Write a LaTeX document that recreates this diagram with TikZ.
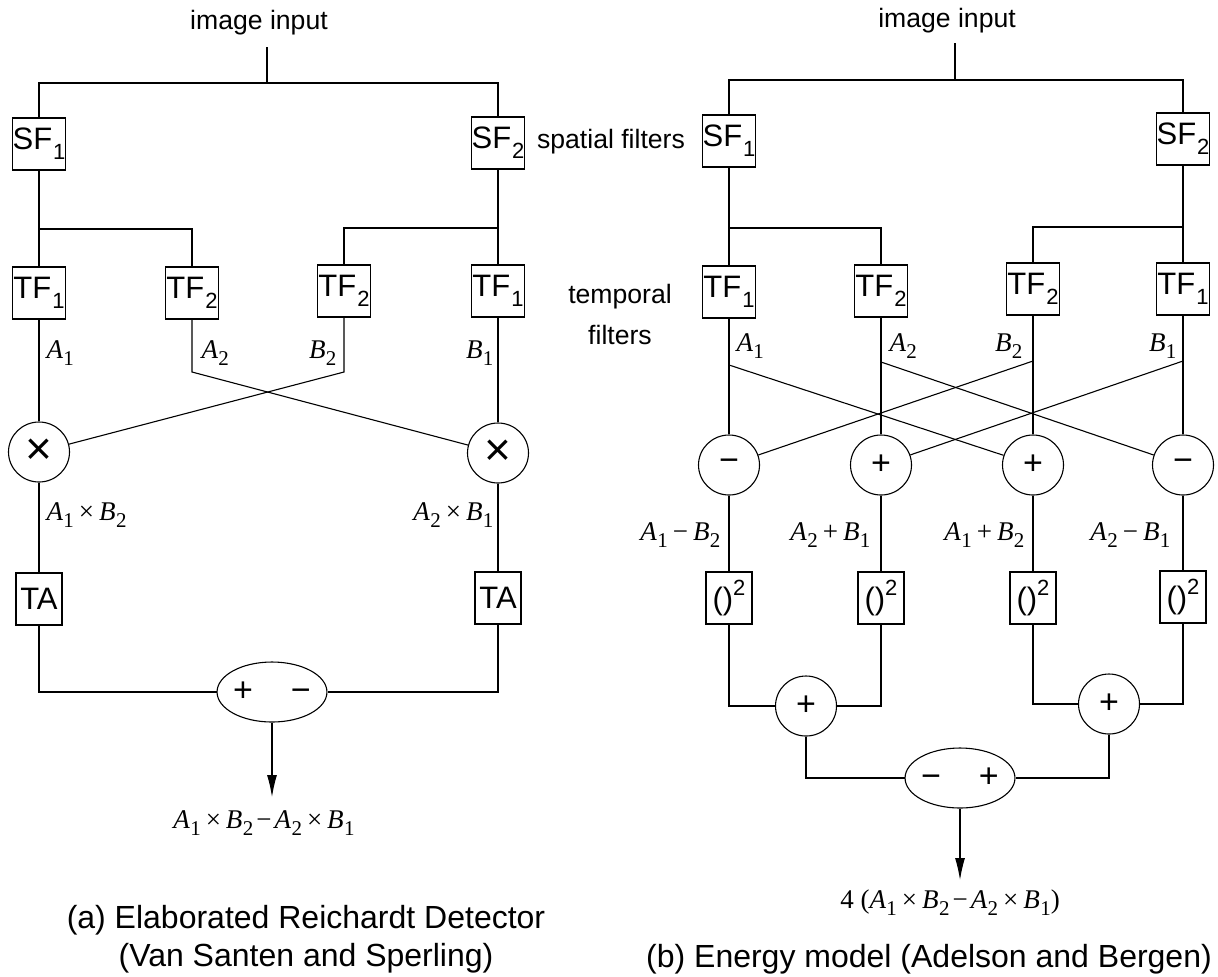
\documentclass[tikz,border=0pt]{standalone}
\usepackage{fontspec}
\setmainfont{Liberation Sans}
\newfontfamily\tms{Liberation Serif}
\usetikzlibrary{arrows.meta,shapes.geometric}
\newcommand\mv[2]{{\tms\itshape #1}\kern0.2pt\raisebox{-0.55ex}{\tms\fontsize{10.5}{10.5}\selectfont #2}}
\newcommand\opx[1]{\kern2.5pt{\tms #1}\kern2.5pt}
\newcommand\bsub[1]{\kern0.5pt\raisebox{-0.6ex}{\fontsize{11}{11}\selectfont #1}}
\newcommand\sqr{()\raisebox{0.85ex}{\fontsize{11}{11}\selectfont 2}}
\begin{document}
\begin{tikzpicture}[x=0.5pt,y=-0.5pt,line width=0.55pt,
  box/.style={draw,rectangle,minimum width=26.5pt,minimum height=26pt,inner sep=0pt,font=\fontsize{15.5}{15.5}\selectfont},
  nbox/.style={draw,rectangle,minimum width=23pt,minimum height=26pt,inner sep=0pt,font=\fontsize{15.5}{15.5}\selectfont},
  opc/.style={draw,ellipse,minimum width=30.5pt,minimum height=30pt,inner sep=0pt,font=\fontsize{17}{17}\selectfont},
  big/.style={draw,ellipse,minimum width=54pt,minimum height=30pt,inner sep=0pt,font=\fontsize{17}{17}\selectfont},
  lbl/.style={inner sep=0pt,font=\tms\fontsize{13.5}{14}\selectfont},
  txt/.style={inner sep=0pt,font=\fontsize{13.3}{15}\selectfont},
  captxt/.style={inner sep=0pt,align=center,font=\fontsize{16}{19}\selectfont},
  outarrow/.style={-{Latex[length=11pt,width=5pt]}}]
\useasboundingbox (0,0) rectangle (1218,976);

% ---------------- (a) left diagram ----------------
\node[txt] (inL) at (259,23) {image input};
\coordinate (inLb) at (267,47);
\coordinate (spL) at (267,83);
\node[box] (sf1L) at (39,144) {SF\bsub{1}};
\node[box] (sf2L) at (498,143) {SF\bsub{2}};
\draw (inLb) -- (spL);
\draw (sf1L.north) |- (spL) -| (sf2L.north);

\node[box] (tf1L) at (39,293) {TF\bsub{1}};
\node[box] (tf2L) at (192,293) {TF\bsub{2}};
\node[box] (tf3L) at (344,291) {TF\bsub{2}};
\node[box] (tf4L) at (498,291) {TF\bsub{1}};
\coordinate (brL1) at (39,229);
\coordinate (brL2) at (498,228);
\draw (sf1L) -- (tf1L);
\draw (brL1) -| (tf2L.north);
\draw (sf2L) -- (tf4L);
\draw (brL2) -| (tf3L.north);

\node[opc,font=\fontsize{23}{23}\selectfont] (m1) at (39,452) {×};
\node[opc,font=\fontsize{23}{23}\selectfont] (m2) at (498,453) {×};
\coordinate (bA2) at (192,372);
\coordinate (bB2) at (344,372);
\draw (tf1L) -- (m1);
\draw (tf4L) -- (m2);
\draw (tf2L) -- (bA2) -- (m2);
\draw (tf3L) -- (bB2) -- (m1);

\node[lbl,anchor=west] (lA1) at (46,353) {\mv{A}{1}};
\node[lbl,anchor=west] (lA2) at (201,353) {\mv{A}{2}};
\node[lbl,anchor=east] (lB2) at (337,353) {\mv{B}{2}};
\node[lbl,anchor=east] (lB1) at (494,353) {\mv{B}{1}};

\node[nbox] (taL) at (39,599) {TA};
\node[nbox] (taR) at (498,598) {TA};
\draw (m1) -- (taL);
\draw (m2) -- (taR);
\node[lbl,anchor=west] (pL) at (46,515) {\mv{A}{1}\opx{×}\mv{B}{2}};
\node[lbl,anchor=east] (pR) at (494,515) {\mv{A}{2}\opx{×}\mv{B}{1}};

\node[big] (sumL) at (272,692) {+\hspace{19pt}−};
\draw (taL) |- (sumL);
\draw (taR) |- (sumL);
\coordinate (outLpt) at (272,797);
\draw[outarrow] (sumL) -- (outLpt);
\node[lbl] (resL) at (264,823) {\mv{A}{1}\opx{×}\mv{B}{2}\kern-1pt\opx{−}\kern-1pt\mv{A}{2}\opx{×}\mv{B}{1}};
\node[captxt] (capL) at (306,939) {(a) Elaborated Reichardt Detector\\(Van Santen and Sperling)};

% ---------------- (b) right diagram ----------------
\node[txt] (inR) at (947,21) {image input};
\coordinate (inRb) at (955,43);
\coordinate (spR) at (955,80);
\node[box] (sf1R) at (729,141) {SF\bsub{1}};
\node[box] (sf2R) at (1183,139) {SF\bsub{2}};
\draw (inRb) -- (spR);
\draw (sf1R.north) |- (spR) -| (sf2R.north);
\node[txt] (spat) at (611,142) {spatial filters};

\node[box] (tf1R) at (729,292) {TF\bsub{1}};
\node[box] (tf2R) at (881,291) {TF\bsub{2}};
\node[box] (tf3R) at (1033,289) {TF\bsub{2}};
\node[box] (tf4R) at (1183,289) {TF\bsub{1}};
\coordinate (brR1) at (729,228);
\coordinate (brR2) at (1183,227);
\draw (sf1R) -- (tf1R);
\draw (brR1) -| (tf2R.north);
\draw (sf2R) -- (tf4R);
\draw (brR2) -| (tf3R.north);
\node[txt] (temp1) at (620,297) {temporal};
\node[txt] (temp2) at (620,335) {filters};

\node[opc] (s1) at (729,465) {−};
\node[opc] (s2) at (881,465) {+};
\node[opc] (s3) at (1033,465) {+};
\node[opc] (s4) at (1183,465) {−};
\coordinate (pA1) at (729,365);
\coordinate (pA2) at (881,362);
\coordinate (pB2) at (1033,361);
\coordinate (pB1) at (1183,361);
\draw (tf1R) -- (s1);
\draw (tf2R) -- (s2);
\draw (tf3R) -- (s3);
\draw (tf4R) -- (s4);
\draw (pA1) -- (s3);
\draw (pA2) -- (s4);
\draw (pB2) -- (s1);
\draw (pB1) -- (s2);

\node[lbl,anchor=west] (rA1) at (736,346) {\mv{A}{1}};
\node[lbl,anchor=west] (rA2) at (889,346) {\mv{A}{2}};
\node[lbl,anchor=east] (rB2) at (1023,346) {\mv{B}{2}};
\node[lbl,anchor=east] (rB1) at (1177,346) {\mv{B}{1}};

\node[lbl,anchor=east] (e1) at (721,535) {\mv{A}{1}\opx{−}\mv{B}{2}};
\node[lbl,anchor=east] (e2) at (871,535) {\mv{A}{2}\opx{+}\mv{B}{1}};
\node[lbl,anchor=east] (e3) at (1025,535) {\mv{A}{1}\opx{+}\mv{B}{2}};
\node[lbl,anchor=east] (e4) at (1171,535) {\mv{A}{2}\opx{−}\mv{B}{1}};

\node[nbox] (q1) at (729,598) {\sqr};
\node[nbox] (q2) at (881,598) {\sqr};
\node[nbox] (q3) at (1033,598) {\sqr};
\node[nbox] (q4) at (1183,597) {\sqr};
\draw (s1) -- (q1);
\draw (s2) -- (q2);
\draw (s3) -- (q3);
\draw (s4) -- (q4);

\node[opc] (pl1) at (806,706) {+};
\node[opc] (pl2) at (1109,704) {+};
\draw (q1) |- (pl1);
\draw (q2) |- (pl1);
\draw (q3) |- (pl2);
\draw (q4) |- (pl2);

\node[big] (dR) at (960,778) {−\hspace{19pt}+};
\draw (pl1) |- (dR);
\draw (pl2) |- (dR);
\coordinate (outRpt) at (960,880);
\draw[outarrow] (dR) -- (outRpt);
\node[lbl] (resR) at (950,903) {4 (\mv{A}{1}\opx{×}\mv{B}{2}\kern-1pt\opx{−}\kern-1pt\mv{A}{2}\opx{×}\mv{B}{1})};
\node[captxt] (capR) at (929,959) {(b) Energy model (Adelson and Bergen)};
\end{tikzpicture}
\end{document}
